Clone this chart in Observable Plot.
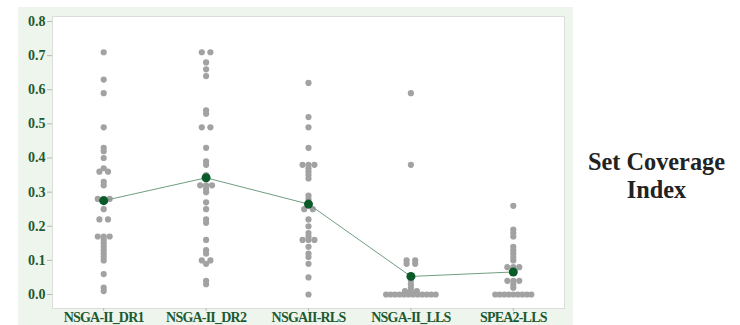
<!DOCTYPE html>
<html>
<head>
<meta charset="utf-8">
<script src="https://cdn.jsdelivr.net/npm/d3@7"></script>
<script src="https://cdn.jsdelivr.net/npm/@observablehq/plot@0.6"></script>
<style>
  body { margin: 0; background: #ffffff; width: 740px; height: 325px; overflow: hidden; position: relative; }
  #chart { position: absolute; left: 18px; top: 7px; }
  #side { position: absolute; left: 573px; width: 167px; top: 148px; text-align: center;
          font-weight: bold; line-height: 28px; color: #222; }
  #chart svg g[aria-label="y-axis tick label"] text,
  #chart svg g[aria-label="x-axis tick label"] text { fill: #1d5a32; }
  #chart svg g[aria-label="y-axis tick"] path,
  #chart svg g[aria-label="x-axis tick"] path { stroke: #b8b8b8; }
</style>
</head>
<body>
<div id="chart"></div>
<div id="side">Set Coverage<br>Index</div>
<script>
const categories = ["NSGA-II_DR1", "NSGA-II_DR2", "NSGAII-RLS", "NSGA-II_LLS", "SPEA2-LLS"];

const dr1 = [0.71, 0.63, 0.59, 0.49, 0.43, 0.42, 0.40, 0.37, 0.36, 0.36, 0.33, 0.32,
  0.28, 0.28, 0.28, 0.25, 0.22, 0.22, 0.17, 0.17, 0.17, 0.16, 0.15, 0.14, 0.13,
  0.12, 0.11, 0.10, 0.06, 0.02, 0.01];
const dr2 = [0.71, 0.71, 0.68, 0.66, 0.64, 0.54, 0.53, 0.49, 0.49, 0.43, 0.39, 0.38,
  0.35, 0.32, 0.32, 0.32, 0.31, 0.30, 0.27, 0.25, 0.22, 0.21, 0.16, 0.13, 0.12,
  0.10, 0.10, 0.09, 0.04, 0.03];
const rls = [0.62, 0.52, 0.49, 0.43, 0.38, 0.38, 0.38, 0.37, 0.36, 0.35, 0.34, 0.29,
  0.28, 0.26, 0.25, 0.25, 0.22, 0.20, 0.18, 0.17, 0.16, 0.16, 0.16, 0.14, 0.12,
  0.11, 0.09, 0.05, 0.00];
const lls = [0.59, 0.38, 0.10, 0.10, 0.09, 0.09, 0.04, 0.03, 0.02, 0.01, 0.01, 0.01,
  0, 0, 0, 0, 0, 0, 0, 0, 0, 0, 0, 0];
const spea = [0.26, 0.19, 0.18, 0.17, 0.14, 0.13, 0.12, 0.11, 0.10, 0.08, 0.08, 0.08,
  0.07, 0.04, 0.04, 0.04, 0.03, 0.02, 0, 0, 0, 0, 0, 0, 0, 0, 0];

const means = [0.275, 0.342, 0.265, 0.053, 0.066];
const yTicks = [0, 0.1, 0.2, 0.3, 0.4, 0.5, 0.6, 0.7, 0.8];

const series = [dr1, dr2, rls, lls, spea];

// pick an installed serif face and size it to the reference's label widths
const serifStack = '"Liberation Serif", "Tinos", "Times New Roman", "Nimbus Roman", "DejaVu Serif", serif';
const ctx = document.createElement("canvas").getContext("2d");
function textWidth(text, size) {
  ctx.font = `bold ${size}px ${serifStack}`;
  return ctx.measureText(text).width;
}
const sideSize = Math.round(20 * 137 / textWidth("Set Coverage", 20) * 10) / 10;
const xLabelSize = 14;
const xSpacing = (80 - textWidth("NSGA-II_DR1", xLabelSize)) / 11;

const side = document.getElementById("side");
side.style.fontFamily = serifStack;
side.style.fontSize = sideSize + "px";

// individual value plot: tied values are laid side by side around the category
const points = [];
series.forEach((vals, i) => {
  const groups = d3.group(vals, v => v.toFixed(3));
  for (const [, g] of groups) {
    const k = g.length;
    const step = k === 2 ? 0.084 : k === 3 ? 0.058 : 0.044;
    g.forEach((v, j) => points.push({pos: i + (j - (k - 1) / 2) * step, value: v}));
  }
});
const meanData = means.map((m, i) => ({pos: i, mean: m}));

const chart = Plot.plot({
  width: 555,
  height: 318,
  marginLeft: 34,
  marginTop: 9,
  marginRight: 9,
  marginBottom: 17,
  style: {background: "#eef5ec", fontFamily: serifStack, fontSize: "14px", fontWeight: "bold"},
  x: {domain: [-0.5, 4.5]},
  y: {domain: [-0.041, 0.8147]},
  marks: [
    Plot.frame({fill: "white", stroke: "#dcdcdc"}),
    Plot.axisY({ticks: yTicks, tickFormat: d3.format(".1f"), tickSize: 5, tickPadding: 2, label: null, fontSize: 14}),
    Plot.axisX({ticks: [0, 1, 2, 3, 4], tickFormat: i => categories[i], tickSize: 3, tickPadding: 1, label: null, fontSize: xLabelSize}),
    Plot.dot(points, {x: "pos", y: "value", r: 3.1, fill: "#a2a2a2", stroke: "none"}),
    Plot.line(meanData, {x: "pos", y: "mean", stroke: "#6f9e80", strokeWidth: 1}),
    Plot.dot(meanData, {x: "pos", y: "mean", r: 4.5, fill: "#0a5a2a", stroke: "none"})
  ]
});
chart.querySelectorAll('g[aria-label="x-axis tick label"] text').forEach(t => {
  t.style.letterSpacing = xSpacing + "px";
});
document.getElementById("chart").append(chart);
</script>
</body>
</html>
